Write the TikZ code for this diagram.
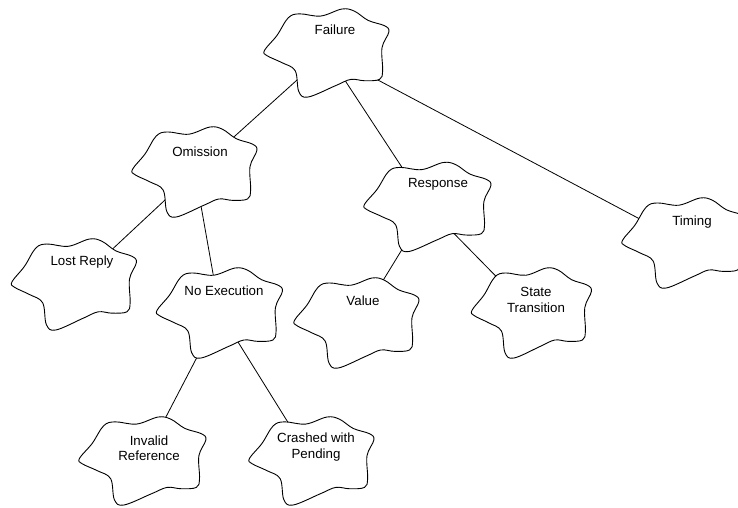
\documentclass[tikz,border=0pt]{standalone}
\usepackage{fontspec}
\setmainfont{Liberation Sans}
\pgfdeclarelayer{links}
\pgfdeclarelayer{clouds}
\pgfsetlayers{links,clouds,main}

\tikzset{
  x=1pt, y=-1pt,
  lbl/.style={font=\fontsize{13.3}{15.5}\selectfont, align=center, inner sep=0pt},
  cloudline/.style={draw=black, fill=white, line width=0.9pt, line join=round},
  link/.style={draw=black, line width=0.8pt},
}

% Irregular cloud outline around a named centre: #1 centre, #2 width, #3 height
\newcommand\drawcloud[3]{%
  \begin{pgfonlayer}{clouds}
  \begin{scope}[shift={(#1)}, xscale=#2, yscale=#3]
    \path[cloudline] plot[smooth cycle, tension=0.6] coordinates {
      (-.5,-.03) (-.40,-.20) (-.31,-.40) (-.22,-.445)
      (-.05,-.42) (.12,-.50) (.22,-.475) (.33,-.37)
      (.46,-.31) (.495,-.24) (.44,-.06) (.445,.20)
      (.42,.30) (.30,.315) (.19,.30) (.07,.37)
      (-.15,.50) (-.225,.44) (-.255,.20) (-.36,.11)
      (-.48,.03)};
  \end{scope}
  \end{pgfonlayer}}

\begin{document}
\begin{tikzpicture}
\useasboundingbox (0,0) rectangle (738,507);

% cloud centres
\coordinate (failure)  at (327,53);
\coordinate (omission) at (195,172);
\coordinate (lost)     at (74.5,284.5);
\coordinate (noexec)   at (220,313);
\coordinate (invalid)  at (143,461);
\coordinate (crashed)  at (312,461);
\coordinate (response) at (428,207);
\coordinate (value)    at (357,323);
\coordinate (state)    at (532,313);
\coordinate (timing)   at (685,243);

% labels
\node[lbl] (failure-t)  at (335,30)  {Failure};
\node[lbl] (omission-t) at (200,152) {Omission};
\node[lbl] (lost-t)     at (82,262)  {Lost Reply};
\node[lbl] (noexec-t)   at (224,291) {No Execution};
\node[lbl] (invalid-t)  at (149,448) {Invalid\\Reference};
\node[lbl] (crashed-t)  at (316,447) {Crashed with\\Pending};
\node[lbl] (response-t) at (438,184) {Response};
\node[lbl] (value-t)    at (363,301) {Value};
\node[lbl] (state-t)    at (536,300) {State\\Transition};
\node[lbl] (timing-t)   at (692,222) {Timing};

% clouds
\drawcloud{failure}{125}{88}
\drawcloud{omission}{125}{90}
\drawcloud{lost}{125}{91}
\drawcloud{noexec}{126}{90}
\drawcloud{invalid}{127}{88}
\drawcloud{crashed}{125}{88}
\drawcloud{response}{127}{89}
\drawcloud{value}{125}{90}
\drawcloud{state}{120}{90}
\drawcloud{timing}{125}{90}

% tree connectors, hidden under the cloud fills
\begin{pgfonlayer}{links}
\draw[link] (failure) -- (omission);
\draw[link] (failure) -- (response);
\draw[link] (failure) -- (timing);
\draw[link] (omission) -- (lost);
\draw[link] (omission) -- (noexec);
\draw[link] (noexec) -- (invalid);
\draw[link] (noexec) -- (crashed);
\draw[link] (response) -- (value);
\draw[link] (response) -- (state);
\end{pgfonlayer}
\end{tikzpicture}
\end{document}
